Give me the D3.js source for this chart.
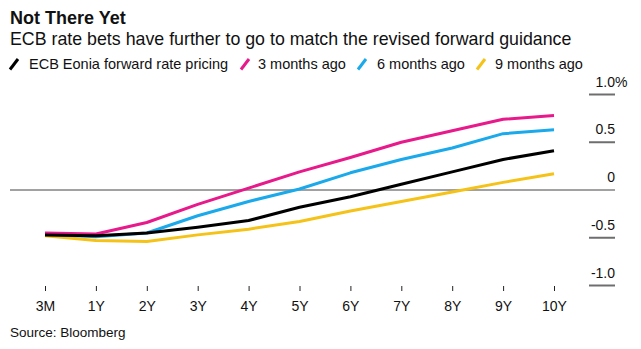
<!DOCTYPE html>
<html>
<head>
<meta charset="utf-8">
<script src="https://cdn.jsdelivr.net/npm/d3@7"></script>
<style>
  html, body { margin: 0; padding: 0; background: #fff; }
  svg text { font-family: "Liberation Sans", Arial, sans-serif; fill: #111; }
</style>
</head>
<body>
<svg id="chart" width="641" height="349"></svg>
<script>
// ---- data ----
const categories = ["3M", "1Y", "2Y", "3Y", "4Y", "5Y", "6Y", "7Y", "8Y", "9Y", "10Y"];
const seriesNames = ["ECB Eonia forward rate pricing", "3 months ago", "6 months ago", "9 months ago"];
const current   = [-0.47, -0.48, -0.45, -0.39, -0.32, -0.18, -0.07, 0.06, 0.19, 0.32, 0.41];
const months3   = [-0.45, -0.46, -0.34, -0.15, 0.02, 0.19, 0.34, 0.50, 0.62, 0.74, 0.78];
const months6   = [-0.46, -0.49, -0.45, -0.27, -0.12, 0.01, 0.18, 0.32, 0.44, 0.59, 0.63];
const months9   = [-0.48, -0.53, -0.54, -0.47, -0.41, -0.33, -0.22, -0.12, -0.02, 0.08, 0.17];
const yTicks = [1.0, 0.5, 0, -0.5, -1.0];
const yTickLabels = ["1.0", "0.5", "0", "-0.5", "-1.0"];
const colors = ["#000000", "#e8198b", "#1aa9ea", "#f5c218"];

const seriesValues = [current, months3, months6, months9];

const svg = d3.select("#chart");

// ---- header ----
svg.append("text").attr("x", 10).attr("y", 23.5)
  .style("font-size", "18px").style("font-weight", "bold")
  .text("Not There Yet");
svg.append("text").attr("x", 10).attr("y", 45)
  .style("font-size", "17.8px")
  .text("ECB rate bets have further to go to match the revised forward guidance");

// legend
const legendSlashX = [10, 241, 358, 477];
const legendTextX = [29, 258, 377, 495];
const legend = svg.append("g");
seriesNames.forEach((name, i) => {
  legend.append("line")
    .attr("x1", legendSlashX[i]).attr("y1", 69.5)
    .attr("x2", legendSlashX[i] + 8).attr("y2", 59)
    .attr("stroke", colors[i]).attr("stroke-width", 3);
  legend.append("text")
    .attr("x", legendTextX[i]).attr("y", 68.5)
    .style("font-size", "14.5px")
    .text(name);
});

// ---- scales ----
const x = d3.scalePoint().domain(categories).range([45, 554]);
const y = d3.scaleLinear().domain([-1, 1]).range([285.5, 94.5]);

// y axis (right side, Bloomberg style)
const yAxis = svg.append("g");
yTicks.forEach((t, i) => {
  if (t !== 0) {
    yAxis.append("line")
      .attr("x1", 589).attr("x2", 615)
      .attr("y1", y(t)).attr("y2", y(t))
      .attr("stroke", "#6e6e6e").attr("stroke-width", 2);
  }
  yAxis.append("text")
    .attr("x", 615).attr("y", y(t) - 8)
    .attr("text-anchor", "end")
    .style("font-size", "14px")
    .text(yTickLabels[i]);
  if (i === 0) {
    yAxis.append("text")
      .attr("x", 615).attr("y", y(t) - 8)
      .style("font-size", "14px")
      .text("%");
  }
});

// zero line
svg.append("line")
  .attr("x1", 10).attr("x2", 615)
  .attr("y1", y(0)).attr("y2", y(0))
  .attr("stroke", "#444").attr("stroke-width", 1);

// x axis
const xAxis = d3.axisBottom(x).tickSize(5).tickPadding(10);
const gx = svg.append("g").attr("transform", "translate(0,286)").call(xAxis);
gx.select(".domain").remove();
gx.selectAll(".tick line").attr("stroke", "#222").attr("stroke-width", 1);
gx.selectAll(".tick text")
  .style("font-family", "\"Liberation Sans\", Arial, sans-serif")
  .style("font-size", "14px").attr("fill", "#111");

// lines (draw back to front: 9, 6, 3 months, then current)
const line = d3.line()
  .x((d, i) => x(categories[i]))
  .y(d => y(d));
[3, 2, 1, 0].forEach(i => {
  svg.append("path")
    .datum(seriesValues[i])
    .attr("d", line)
    .attr("fill", "none")
    .attr("stroke", colors[i])
    .attr("stroke-width", 3)
    .attr("stroke-linejoin", "round");
});

// source
svg.append("text").attr("x", 10).attr("y", 337)
  .style("font-size", "13.5px")
  .attr("fill", "#222")
  .text("Source: Bloomberg");
</script>
</body>
</html>
